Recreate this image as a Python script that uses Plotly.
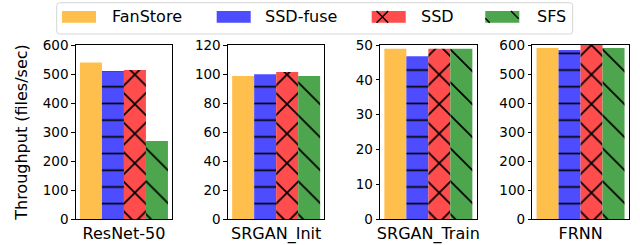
import plotly.graph_objects as go
from plotly.subplots import make_subplots

categories = ["ResNet-50", "SRGAN_Init", "SRGAN_Train", "FRNN"]
series_names = ["FanStore", "SSD-fuse", "SSD", "SFS"]
fanstore = [540, 98.6, 48.9, 589.7]
ssd_fuse = [510, 99.8, 46.8, 583]
ssd = [514, 101.4, 48.9, 600]
sfs = [269, 98.6, 48.9, 590]
y_max = [600, 120, 50, 600]
y_dtick = [100, 20, 10, 100]

series_values = [fanstore, ssd_fuse, ssd, sfs]
colors = ["#FFBF4D", "#4D4DFF", "#FF4D4D", "#4DA64D"]
patterns = [
    dict(shape=""),
    dict(shape="-", size=16.7, solidity=0.1, fgcolor="black", fgopacity=1, fillmode="overlay"),
    dict(shape="x", size=20.9, solidity=0.156, fgcolor="black", fgopacity=1, fillmode="overlay"),
    dict(shape="\\", size=23.3, solidity=0.073, fgcolor="black", fgopacity=1, fillmode="overlay"),
]

W, H = 640, 245
PLOT_TOP, PLOT_BOTTOM = 45, 219
font_family = "DejaVu Sans"

fig = make_subplots(rows=1, cols=4)

for c, cat in enumerate(categories):
    for s, name in enumerate(series_names):
        fig.add_trace(
            go.Bar(
                x=[cat],
                y=[series_values[s][c]],
                name=name,
                legendgroup=name,
                showlegend=False,
                marker=dict(color=colors[s], line=dict(width=0), pattern=patterns[s]),
            ),
            row=1, col=c + 1,
        )

left_px = [75.7, 227.9, 380.1, 532.3]
width_px = 96.5
for c in range(4):
    xa = "xaxis" if c == 0 else f"xaxis{c+1}"
    ya = "yaxis" if c == 0 else f"yaxis{c+1}"
    fig.layout[xa].update(
        domain=[left_px[c] / W, (left_px[c] + width_px) / W],
        showline=True, linecolor="black", linewidth=1, mirror=True,
        ticks="", showgrid=False, tickfont=dict(size=16, color="black", family=font_family),
        automargin=False,
    )
    fig.layout[ya].update(
        range=[0, y_max[c]], dtick=y_dtick[c], tick0=0,
        showline=True, linecolor="black", linewidth=1, mirror=True,
        ticks="outside", ticklen=3.5, tickwidth=0.8, tickcolor="black",
        showgrid=False, zeroline=False,
        tickfont=dict(size=13.5, color="black", family=font_family),
        automargin=False,
    )

fig.layout.yaxis.title = dict(text="Throughput (files/sec)",
                              font=dict(size=16, color="black", family=font_family),
                              standoff=11)


# ---- legend drawn in figure pixels (decoration, not data) ----
def px_x(px):
    return px / W


def px_y(py):
    return (PLOT_BOTTOM - py) / (PLOT_BOTTOM - PLOT_TOP)


shapes = []
annotations = []
bx0, bx1, by0, by1, r = 56.7, 572.7, 2.7, 34.0, 3.0
path = (
    f"M {px_x(bx0 + r)},{px_y(by0)} L {px_x(bx1 - r)},{px_y(by0)} "
    f"Q {px_x(bx1)},{px_y(by0)} {px_x(bx1)},{px_y(by0 + r)} "
    f"L {px_x(bx1)},{px_y(by1 - r)} Q {px_x(bx1)},{px_y(by1)} {px_x(bx1 - r)},{px_y(by1)} "
    f"L {px_x(bx0 + r)},{px_y(by1)} Q {px_x(bx0)},{px_y(by1)} {px_x(bx0)},{px_y(by1 - r)} "
    f"L {px_x(bx0)},{px_y(by0 + r)} Q {px_x(bx0)},{px_y(by0)} {px_x(bx0 + r)},{px_y(by0)} Z"
)
shapes.append(dict(type="path", xref="paper", yref="paper", path=path,
                   line=dict(color="#d6d6d6", width=1), fillcolor="white", layer="above"))

patch_x = [62, 216.7, 371.7, 485.3]
text_x = [110.7, 264, 420, 536]
patch_w, py0, py1 = 34, 11, 22.7
for i, name in enumerate(series_names):
    shapes.append(dict(type="rect", xref="paper", yref="paper",
                       x0=px_x(patch_x[i]), x1=px_x(patch_x[i] + patch_w),
                       y0=px_y(py1), y1=px_y(py0),
                       fillcolor=colors[i], line=dict(width=0), layer="above"))
    annotations.append(dict(text=name, xref="paper", yref="paper",
                            x=px_x(text_x[i]), y=px_y(16.9), xanchor="left", yanchor="middle",
                            showarrow=False, borderpad=0,
                            font=dict(size=16, color="black", family=font_family)))

hatch_segments = [
    (376.5, 11, 388.2, 22.7), (388.2, 11, 376.5, 22.7),
    (485.3, 18.3, 489.7, 22.7), (511.0, 11, 518.7, 18.7),
]
for (xa0, ya0, xa1, ya1) in hatch_segments:
    shapes.append(dict(type="line", xref="paper", yref="paper",
                       x0=px_x(xa0), y0=px_y(ya0), x1=px_x(xa1), y1=px_y(ya1),
                       line=dict(color="black", width=1.4), layer="above"))

fig.update_layout(
    width=W, height=H,
    margin=dict(l=0, r=0, t=PLOT_TOP, b=H - PLOT_BOTTOM),
    barmode="group", bargap=0.088, bargroupgap=0,
    plot_bgcolor="white", paper_bgcolor="white",
    font=dict(family=font_family, color="black"),
    showlegend=False,
    shapes=shapes,
    annotations=annotations,
)

fig.write_html(
    "out.html",
    config={"displayModeBar": False},
    post_script="document.body.style.margin='0';document.body.style.padding='0';"
                "document.body.style.overflow='hidden';",
)
